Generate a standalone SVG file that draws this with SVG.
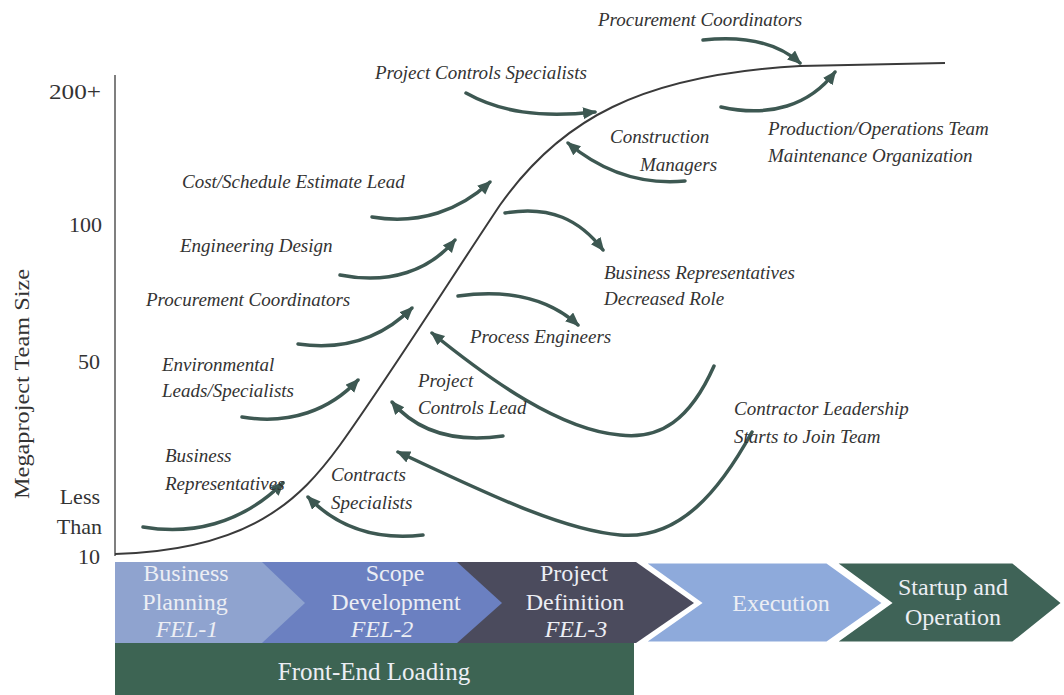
<svg xmlns="http://www.w3.org/2000/svg" width="1064" height="695" viewBox="0 0 1064 695">
<defs>
<marker id="ah" markerUnits="userSpaceOnUse" markerWidth="16" markerHeight="14" refX="12" refY="6" orient="auto">
<path d="M0,0 L14,6 L0,12 z" fill="#3d5852"/>
</marker>
<style>
.lbl{font-family:'Liberation Serif','DejaVu Serif',serif;font-style:italic;font-size:19px;fill:#333;}
.ax{font-family:'Liberation Serif','DejaVu Serif',serif;font-size:22px;fill:#333;}
.arr{fill:none;stroke:#3d5852;stroke-width:3.5;stroke-linecap:round;marker-end:url(#ah);}
.chv{font-family:'Liberation Serif','DejaVu Serif',serif;font-size:24px;fill:#eceef4;text-anchor:middle;}
.big{font-size:25px;}
.it{font-style:italic;}
</style>
</defs>
<rect width="1064" height="695" fill="#fff"/>

<g id="axis">
<line x1="115" y1="75" x2="115" y2="556" stroke="#555" stroke-width="1.5"/>
<text class="ax" x="101" y="99" text-anchor="end" textLength="52" lengthAdjust="spacingAndGlyphs">200+</text>
<text class="ax" x="102" y="232" text-anchor="end">100</text>
<text class="ax" x="100" y="369" text-anchor="end">50</text>
<text class="ax" x="100" y="504" text-anchor="end">Less</text>
<text class="ax" x="102" y="534" text-anchor="end">Than</text>
<text class="ax" x="100" y="564" text-anchor="end">10</text>
<text class="ax" transform="translate(29,384) rotate(-90)" text-anchor="middle" textLength="230" lengthAdjust="spacingAndGlyphs">Megaproject Team Size</text>
</g>

<g id="curve">
<path d="M115,554 C250,550 300,500 340,445 C390,375 450,280 500,205 C560,120 640,75 800,66 L945,63" fill="none" stroke="#3a3a3a" stroke-width="2"/>
</g>

<g id="connectors">
<path class="arr" d="M143,527 C190,535 240,525 283,483"/>
<path class="arr" d="M242,417 C290,425 330,410 358,380"/>
<path class="arr" d="M298,344 C340,350 380,340 412,308"/>
<path class="arr" d="M340,275 C390,285 430,270 455,240"/>
<path class="arr" d="M372,217 C420,225 460,210 490,182"/>
<path class="arr" d="M466,93 C500,112 540,118 595,112"/>
<path class="arr" d="M703,40 C750,35 780,45 800,63"/>
<path class="arr" d="M721,107 C770,118 810,105 835,72"/>
<path class="arr" d="M685,181 C640,185 600,170 568,143"/>
<path class="arr" d="M505,213 C550,205 580,220 603,250"/>
<path class="arr" d="M458,296 C500,290 545,295 578,325"/>
<path class="arr" d="M714,366 C690,420 660,440 620,435 C560,430 490,380 432,333"/>
<path class="arr" d="M503,436 C460,442 420,435 392,402"/>
<path class="arr" d="M752,432 C720,490 680,540 620,535 C560,530 480,490 398,452"/>
<path class="arr" d="M423,535 C380,540 340,530 308,497"/>
</g>

<g id="labels">
<text class="lbl" x="598" y="26">Procurement Coordinators</text>
<text class="lbl" x="375" y="79">Project Controls Specialists</text>
<text class="lbl" x="610" y="143">Construction</text>
<text class="lbl" x="640" y="171">Managers</text>
<text class="lbl" x="768" y="135">Production/Operations Team</text>
<text class="lbl" x="768" y="162">Maintenance Organization</text>
<text class="lbl" x="182" y="188">Cost/Schedule Estimate Lead</text>
<text class="lbl" x="180" y="252">Engineering Design</text>
<text class="lbl" x="604" y="279">Business Representatives</text>
<text class="lbl" x="604" y="305">Decreased Role</text>
<text class="lbl" x="146" y="306">Procurement Coordinators</text>
<text class="lbl" x="470" y="343">Process Engineers</text>
<text class="lbl" x="162" y="371">Environmental</text>
<text class="lbl" x="162" y="397">Leads/Specialists</text>
<text class="lbl" x="418" y="387">Project</text>
<text class="lbl" x="418" y="414">Controls Lead</text>
<text class="lbl" x="734" y="415">Contractor Leadership</text>
<text class="lbl" x="734" y="443">Starts to Join Team</text>
<text class="lbl" x="165" y="462">Business</text>
<text class="lbl" x="165" y="490">Representatives</text>
<text class="lbl" x="331" y="481">Contracts</text>
<text class="lbl" x="331" y="509">Specialists</text>
</g>

<g id="phases">
<g id="fel3">
<polygon points="115,562 636,562 694,603 636,643 115,643" fill="#4b4b5d"/>
<text class="chv" x="574" y="581">Project</text>
<text class="chv" x="575" y="610">Definition</text>
<text class="chv it" x="576" y="637">FEL-3</text>
</g>
<g id="fel2">
<polygon points="115,562 457,562 502,603 457,643 115,643" fill="#6b80c1"/>
<text class="chv" x="395" y="581">Scope</text>
<text class="chv" x="396" y="610">Development</text>
<text class="chv it" x="382" y="637">FEL-2</text>
</g>
<g id="fel1">
<polygon points="115,562 262,562 305,603 262,643 115,643" fill="#8fa3cf"/>
<text class="chv" x="186" y="581">Business</text>
<text class="chv" x="185" y="610">Planning</text>
<text class="chv it" x="187" y="637">FEL-1</text>
</g>
<g id="execution">
<polygon points="643,562 827,562 884,603 827,643 643,643 700,603" fill="#8eaadb" stroke="#fff" stroke-width="3"/>
<text class="chv" x="781" y="611">Execution</text>
</g>
<g id="startup">
<polygon points="834,562 1013,562 1063,603 1013,643 834,643 890,603" fill="#3f6357" stroke="#fff" stroke-width="3"/>
<text class="chv" x="953" y="595">Startup and</text>
<text class="chv" x="953" y="625">Operation</text>
</g>
<g id="fel">
<rect x="115" y="643" width="519" height="52" fill="#3d6453"/>
<text class="chv big" x="374" y="680">Front-End Loading</text>
</g>
</g>
</svg>
